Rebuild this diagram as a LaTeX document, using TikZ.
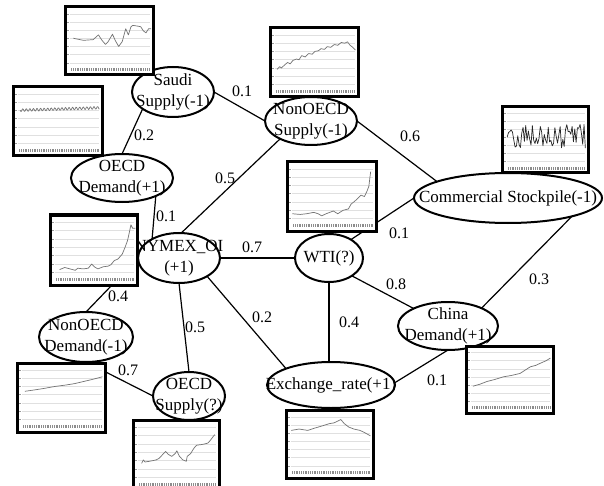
\documentclass[tikz,border=0pt]{standalone}
\usepackage{fontspec}
\setmainfont{Liberation Serif}
\usetikzlibrary{shapes.geometric}
\tikzset{
  ell/.style={ellipse, draw, line width=2pt, fill=white, inner sep=0pt, outer sep=0pt},
  etext/.style={font=\fontsize{17}{21}\selectfont, align=center, inner sep=0pt},
  lbl/.style={font=\fontsize{16}{18}\selectfont, inner sep=0pt},
  conn/.style={line width=1.2pt},
  frame/.style={line width=3pt},
  gridln/.style={black!12, line width=0.5pt},
  xtickband/.style={black!45, line width=3pt, dash pattern=on 0.6pt off 1.2pt},
  ytick/.style={black!40, line width=0.5pt},
  series/.style={black!55, line width=0.7pt, line join=round},
  darkseries/.style={black!85, line width=0.7pt, line join=round}
}
\newcommand{\thumbchart}[5]{%
  \begin{scope}[shift={(#1,#2)}, x={(#3pt,0pt)}, y={(0pt,-#4pt)}]
    \fill[white] (0,0) rectangle (1,1);
    \foreach \g in {0.1,0.22,0.34,0.46,0.58,0.70,0.82}{
      \draw[gridln] (0.06,\g) -- (0.97,\g);
      \draw[ytick] (0.02,\g) -- (0.045,\g);
    }
    \draw[xtickband] (0.07,0.925) -- (0.97,0.925);
    #5
    \draw[frame] (0,0) rectangle (1,1);
  \end{scope}}
\begin{document}
\begin{tikzpicture}[x=1pt, y=-1pt]
\useasboundingbox (0,0) rectangle (604,486);
\fill[white] (0,0) rectangle (604,486);

% ellipses
\node[ell, minimum width=82pt, minimum height=50pt, label={[etext]center:{Saudi\\Supply(-1)}}] (saudi) at (173,92) {};
\node[ell, minimum width=92pt, minimum height=48pt, label={[etext]center:{NonOECD\\Supply(-1)}}] (nos) at (311,121) {};
\node[ell, minimum width=102pt, minimum height=48pt, label={[etext]center:{OECD\\Demand(+1)}}] (od) at (122,178) {};
\node[ell, minimum width=82pt, minimum height=50pt, label={[etext]center:{NYMEX\_OI\\(+1)}}] (nymex) at (179,258) {};
\node[ell, minimum width=68pt, minimum height=48pt, label={[etext]center:{WTI(?)}}] (wti) at (329,258) {};
\node[ell, minimum width=188pt, minimum height=50pt, label={[etext]center:{Commercial Stockpile(-1)}}] (com) at (508,198) {};
\node[ell, minimum width=100pt, minimum height=48pt, label={[etext]center:{China\\Demand(+1)}}] (china) at (448,326) {};
\node[ell, minimum width=128pt, minimum height=46pt, label={[etext]center:{Exchange\_rate(+1)}}] (exr) at (331,385) {};
\node[ell, minimum width=94pt, minimum height=50pt, label={[etext]center:{NonOECD\\Demand(-1)}}] (nd) at (86,337) {};
\node[ell, minimum width=72pt, minimum height=48pt, label={[etext]center:{OECD\\Supply(?)}}] (os) at (189,396) {};

% connectors
\draw[conn] (saudi.east) -- (nos.west);
\draw[conn] (saudi.209) -- (od.north);
\draw[conn] (od.-28) -- (nymex.145);
\draw[conn] (nos.210) -- (nymex.85);
\draw[conn] (nos.east) -- (com.167);
\draw[conn] (wti.40) -- (com.west);
\draw[conn] (nymex.east) -- (wti.west);
\draw[conn] (nymex.west) -- (nd.north);
\draw[conn] (nymex.south) -- (os.north);
\draw[conn] (nymex.-33) -- (exr.160);
\draw[conn] (nd.south) -- (os.west);
\draw[conn] (wti.south) -- (wti.south |- exr.north);
\draw[conn] (wti.-38) -- (china.153);
\draw[conn] (com.-16) -- (china.28);
\draw[conn] (china.south) -- (exr.2);

% weights
\node[lbl] (w1) at (242,91) {0.1};
\node[lbl] (w2) at (144,135) {0.2};
\node[lbl] (w3) at (166,216) {0.1};
\node[lbl] (w4) at (225,178) {0.5};
\node[lbl] (w5) at (410,136) {0.6};
\node[lbl] (w6) at (399,233) {0.1};
\node[lbl] (w7) at (252,247) {0.7};
\node[lbl] (w8) at (118,296) {0.4};
\node[lbl] (w9) at (195,327) {0.5};
\node[lbl] (w10) at (262,317) {0.2};
\node[lbl] (w11) at (128,370) {0.7};
\node[lbl] (w12) at (396,284) {0.8};
\node[lbl] (w13) at (349,322) {0.4};
\node[lbl] (w14) at (539,279) {0.3};
\node[lbl] (w15) at (437,380) {0.1};

% thumbnails
\thumbchart{65}{7}{88}{68}{\draw[series] plot coordinates {(0.095,0.46) (0.21,0.49) (0.32,0.48) (0.38,0.41) (0.42,0.49) (0.46,0.55) (0.49,0.51) (0.54,0.40) (0.57,0.49) (0.61,0.58) (0.65,0.51) (0.69,0.32) (0.72,0.41) (0.75,0.29) (0.77,0.27) (0.82,0.28) (0.86,0.29) (0.89,0.35) (0.92,0.38) (0.95,0.32) (0.98,0.32)};}
\thumbchart{13}{87}{89}{69}{\draw[series] plot[domain=0.08:0.97, samples=120] (\x, {0.34-0.04*\x+0.02*sin(\x*9000)});}
\thumbchart{270}{28}{88}{69}{\draw[series] plot coordinates {(0.08,0.6) (0.11,0.56) (0.13,0.58) (0.17,0.53) (0.2,0.5) (0.23,0.52) (0.26,0.47) (0.3,0.45) (0.33,0.46) (0.36,0.4) (0.4,0.42) (0.44,0.37) (0.48,0.38) (0.51,0.34) (0.55,0.33) (0.58,0.3) (0.62,0.31) (0.65,0.27) (0.69,0.28) (0.73,0.24) (0.77,0.25) (0.81,0.21) (0.85,0.22) (0.88,0.2) (0.91,0.25) (0.94,0.28) (0.97,0.32)};}
\thumbchart{287}{162}{89}{69}{\draw[series] plot coordinates {(0.06,0.75) (0.15,0.76) (0.22,0.75) (0.30,0.73) (0.35,0.75) (0.39,0.78) (0.44,0.75) (0.52,0.71) (0.57,0.75) (0.63,0.70) (0.69,0.68) (0.72,0.61) (0.76,0.57) (0.80,0.52) (0.83,0.48) (0.87,0.50) (0.90,0.42) (0.92,0.35) (0.93,0.24) (0.94,0.14)};}
\pgfmathsetseed{11}
\thumbchart{502}{107}{86}{66}{\draw[darkseries] plot[domain=0.06:0.97, samples=60] (\x, {0.45+0.2*rand});}
\thumbchart{50}{215}{87}{70}{\draw[series] plot coordinates {(0.11,0.78) (0.17,0.75) (0.23,0.77) (0.29,0.79) (0.32,0.76) (0.38,0.77) (0.44,0.76) (0.48,0.70) (0.51,0.74) (0.55,0.77) (0.61,0.74) (0.67,0.73) (0.70,0.71) (0.74,0.65) (0.78,0.63) (0.83,0.56) (0.86,0.47) (0.89,0.37) (0.91,0.26) (0.93,0.14) (0.95,0.19) (0.98,0.19)};}
\thumbchart{17}{363}{88}{69}{\draw[series] plot coordinates {(0.09,0.41) (0.2,0.39) (0.3,0.37) (0.43,0.34) (0.55,0.32) (0.65,0.30) (0.75,0.27) (0.85,0.24) (0.97,0.2)};}
\thumbchart{133}{420}{86}{70}{\draw[series] plot coordinates {(0.10,0.62) (0.12,0.57) (0.14,0.60) (0.19,0.59) (0.27,0.57) (0.30,0.55) (0.34,0.50) (0.38,0.45) (0.41,0.49) (0.45,0.52) (0.49,0.48) (0.51,0.44) (0.54,0.52) (0.58,0.57) (0.62,0.59) (0.63,0.52) (0.67,0.48) (0.71,0.40) (0.74,0.36) (0.80,0.35) (0.84,0.34) (0.87,0.33) (0.90,0.29) (0.93,0.24) (0.95,0.21)};}
\thumbchart{286}{410}{87}{68}{\draw[series] plot coordinates {(0.06,0.3) (0.15,0.28) (0.25,0.3) (0.32,0.27) (0.4,0.24) (0.45,0.22) (0.5,0.2) (0.55,0.19) (0.6,0.16) (0.63,0.14) (0.67,0.2) (0.72,0.25) (0.78,0.28) (0.85,0.3) (0.9,0.33) (0.97,0.38)};}
\thumbchart{466}{346}{87}{67}{\draw[series] plot coordinates {(0.08,0.60) (0.16,0.57) (0.24,0.53) (0.33,0.50) (0.43,0.46) (0.52,0.44) (0.62,0.41) (0.68,0.36) (0.74,0.31) (0.80,0.29) (0.85,0.26) (0.92,0.22) (0.97,0.18)};}
\end{tikzpicture}
\end{document}
